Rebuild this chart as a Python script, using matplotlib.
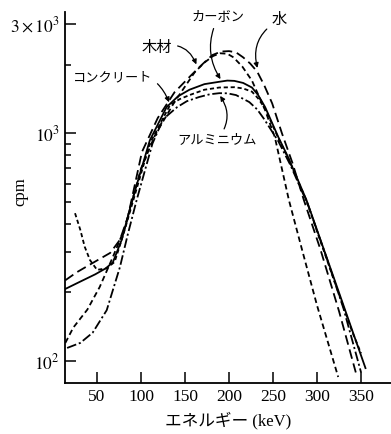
import numpy as np
import matplotlib
matplotlib.use("Agg")
import matplotlib.pyplot as plt
from matplotlib.ticker import FixedLocator, NullLocator

plt.rcParams["font.family"] = ["Liberation Serif", "Noto Sans CJK JP"]
plt.rcParams["mathtext.fontset"] = "stix"
plt.rcParams["lines.scale_dashes"] = False

# energy (keV) / counts (cpm)
water_e = [14, 27, 45, 65, 76, 85, 101, 119, 138, 157, 170, 181, 191, 200, 208, 216, 224, 232, 240, 249, 260, 272, 285, 304, 325, 344]
water_c = [226, 245, 269, 298, 340, 428, 826, 1165, 1510, 1795, 2010, 2200, 2280, 2290, 2260, 2150, 2020, 1860, 1620, 1350, 1000, 740, 508, 307, 165, 89]

wood_e = [14, 23, 39, 53, 68, 82, 88, 100, 116, 138, 161, 172, 182, 190, 198, 205, 215, 226, 241, 252, 268, 283, 300, 324]
wood_c = [120, 140, 168, 211, 286, 387, 473, 700, 980, 1370, 1850, 2040, 2180, 2240, 2230, 2150, 1960, 1700, 1260, 960, 508, 307, 175, 85]

carbon_e = [14, 30, 48, 60, 68, 78, 90, 110, 129, 142, 155, 172, 189, 198, 206, 216, 226, 233, 241, 256, 267, 288, 300, 320, 340, 355]
carbon_c = [207, 222, 240, 255, 271, 340, 508, 930, 1300, 1450, 1550, 1640, 1680, 1700, 1695, 1660, 1585, 1470, 1300, 960, 785, 508, 375, 226, 136, 93]

concrete_e = [25, 31, 36, 42, 50, 61, 70, 80, 92, 110, 133, 144, 155, 172, 189, 206, 216, 226, 233, 241, 256, 267, 288, 300, 320, 340, 350]
concrete_c = [445, 376, 317, 277, 251, 255, 272, 360, 520, 900, 1330, 1410, 1468, 1550, 1585, 1590, 1570, 1520, 1420, 1280, 950, 780, 505, 370, 222, 134, 108]

alum_e = [16, 31, 45, 61, 76, 85, 95, 113, 125, 141, 152, 166, 178, 189, 198, 208, 223, 232, 240, 256, 270, 290, 310, 330, 350]
alum_c = [114, 120, 133, 167, 258, 360, 508, 900, 1150, 1300, 1380, 1440, 1480, 1497, 1495, 1468, 1368, 1270, 1150, 920, 720, 480, 290, 170, 89]

xticks = [50, 100, 150, 200, 250, 300, 350]
yticks = [100, 1000, 3000]
ytick_labels = [r"$10^2$", r"$10^3$", r"$3\times10^3$"]

fig = plt.figure(figsize=(3.91, 4.34), dpi=100)
ax = fig.add_axes([65 / 391, 51 / 434, 326 / 391, 371 / 434])

lw = 1.3
ax.plot(water_e, water_c, color="black", lw=lw, dashes=(7, 3.5))
ax.plot(wood_e, wood_c, color="black", lw=lw, dashes=(4, 2.5))
ax.plot(carbon_e, carbon_c, color="black", lw=lw)
ax.plot(concrete_e, concrete_c, color="black", lw=lw, dashes=(3, 2))
ax.plot(alum_e, alum_c, color="black", lw=lw, dashes=(7, 2, 1.5, 2))

ax.set_yscale("log")
ax.set_xlim(13.6, 384)
ax.set_ylim(80, 3400)

ax.xaxis.set_major_locator(FixedLocator(xticks))
ax.xaxis.set_minor_locator(NullLocator())
ax.yaxis.set_major_locator(FixedLocator(yticks))
ax.yaxis.set_minor_locator(FixedLocator([200, 300, 400, 500, 600, 700, 800, 900, 2000]))
ax.set_yticklabels(ytick_labels)
ax.yaxis.set_minor_formatter(plt.NullFormatter())

ax.tick_params(axis="both", which="major", direction="in", length=8, width=1.1,
               labelsize=12.5, pad=4)
ax.tick_params(axis="y", which="minor", direction="in", length=4, width=1.1)

for s in ["top", "right"]:
    ax.spines[s].set_visible(False)
for s in ["left", "bottom"]:
    ax.spines[s].set_linewidth(1.3)

ax.set_xlabel("エネルギー (keV)", fontsize=12, labelpad=5)
fig.text(20 / 391, 1 - 192 / 434, "cpm", rotation=90, fontsize=12,
         ha="center", va="center")

arrow = dict(arrowstyle="-|>", color="black", lw=0.9, mutation_scale=7)
ax.annotate("木材", xy=(164, 1950), xytext=(118, 2360), fontsize=11,
            ha="center", va="center",
            arrowprops=dict(arrow, connectionstyle="arc3,rad=-0.5"))
ax.annotate("カーボン", xy=(192, 1685), xytext=(188, 3228), fontsize=9.5,
            ha="center", va="center",
            arrowprops=dict(arrow, connectionstyle="arc3,rad=0.3"))
ax.annotate("水", xy=(233, 1880), xytext=(257, 3135), fontsize=11,
            ha="center", va="center",
            arrowprops=dict(arrow, connectionstyle="arc3,rad=0.4"))
ax.annotate("コンクリート", xy=(133, 1330), xytext=(68, 1742), fontsize=9.5,
            ha="center", va="center",
            arrowprops=dict(arrow, connectionstyle="arc3,rad=-0.5"))
ax.annotate("アルミニウム", xy=(188, 1490), xytext=(186, 931), fontsize=9.5,
            ha="center", va="center",
            arrowprops=dict(arrow, connectionstyle="arc3,rad=0.4"))

fig.savefig("out.png", dpi=100)
